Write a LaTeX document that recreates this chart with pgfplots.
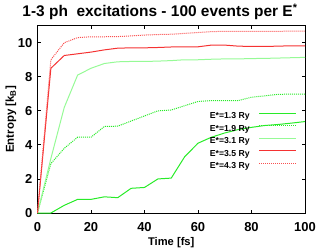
\documentclass[border=0pt]{standalone}
\usepackage{pgfplots}
\pgfplotsset{compat=1.18}
\usepackage{fontspec}
\setmainfont{Liberation Sans}
\definecolor{cA}{RGB}{40,235,40}
\definecolor{cB}{RGB}{40,235,40}
\definecolor{cC}{RGB}{150,250,150}
\definecolor{cD}{RGB}{245,50,50}
\definecolor{cE}{RGB}{250,80,80}
\begin{document}
\begin{tikzpicture}
\begin{axis}[
  name=ax,
  scale only axis,
  width=267.5bp, height=187.3bp,
  xmin=0, xmax=100, ymin=0, ymax=11,
  xtick={0,20,40,60,80,100},
  ytick={0,2,4,6,8,10},
  tick align=inside,
  major tick length=3bp,
  tick style={black, line width=0.8bp},
  axis line style={black, line width=1bp},
  /pgf/number format/assume math mode=true,
  font=\bfseries,
  ticklabel style={font=\fontsize{13}{13}\selectfont\bfseries},
  xticklabel style={anchor=base, inner sep=0pt, yshift=-18.6bp},
  yticklabel style={anchor=east, inner sep=0pt, xshift=-5bp},
  xlabel={Time [fs]},
  xlabel style={at={(rel axis cs:0.5,0)}, anchor=base, yshift=-32.7bp, font=\fontsize{11.2}{11.2}\selectfont\bfseries},
  legend cell align=right,
  legend plot pos=right,
  legend image code/.code={\draw[#1] (0bp,3bp) -- (37bp,3bp);},
  legend style={draw=none, fill=none, inner sep=0pt, at={(rel axis cs:1,0.541)}, anchor=north east, xshift=-8.3bp,
    font=\fontsize{8.7}{8.7}\selectfont\bfseries,
    nodes={inner sep=0pt, text height=7bp, text depth=2bp},
    row sep=3.5bp, column sep=8.8bp},
  clip=false,
]
\addplot[cA, line width=1bp] coordinates {(0,0)(5,0)(10,0.45)(15,0.8)(20,0.8)(25,0.95)(30,0.9)(35,1.45)(40,1.5)(45,2.0)(50,2.05)(55,3.3)(60,4.1)(65,4.45)(70,4.7)(75,4.9)(80,5.03)(85,5.14)(90,5.2)(95,5.28)(100,5.37)};
\addlegendentry{E*=1.3 Ry}
\addplot[cB, line width=1bp, dash pattern=on 1bp off 1bp] coordinates {(0,0)(5,2.9)(10,3.8)(15,4.45)(20,4.45)(25,5.08)(30,5.1)(35,5.4)(40,5.7)(45,6.0)(50,6.05)(55,6.3)(60,6.55)(65,6.6)(70,6.6)(75,6.6)(80,6.8)(85,6.88)(90,6.97)(95,6.98)(100,6.98)};
\addlegendentry{E*=1.9 Ry}
\addplot[cC, line width=1bp] coordinates {(0,0)(5,3.2)(10,6.2)(15,8.1)(20,8.5)(25,8.78)(30,8.88)(35,8.9)(40,8.9)(45,8.92)(50,8.95)(55,9.0)(60,9.0)(65,9.03)(70,9.05)(75,9.05)(80,9.07)(85,9.08)(90,9.1)(95,9.12)(100,9.14)};
\addlegendentry{E*=3.1 Ry}
\addplot[cD, line width=1bp] coordinates {(0,0)(5,8.5)(10,9.25)(15,9.35)(20,9.45)(25,9.58)(30,9.68)(35,9.7)(40,9.7)(45,9.72)(50,9.75)(55,9.76)(60,9.76)(65,9.86)(70,9.86)(75,9.8)(80,9.78)(85,9.78)(90,9.8)(95,9.82)(100,9.82)};
\addlegendentry{E*=3.5 Ry}
\addplot[cE, line width=1bp, dash pattern=on 1bp off 1bp] coordinates {(0,0)(5,9.0)(10,10.0)(15,10.3)(20,10.35)(25,10.35)(30,10.36)(35,10.4)(40,10.45)(45,10.48)(50,10.5)(55,10.55)(60,10.6)(65,10.65)(70,10.67)(75,10.67)(80,10.67)(85,10.67)(90,10.67)(95,10.68)(100,10.68)};
\addlegendentry{E*=4.3 Ry}
\end{axis}
\pgfresetboundingbox
\path[use as bounding box] ([shift={(-37.5bp,-37bp)}]ax.south west) rectangle ([shift={(12bp,25.7bp)}]ax.north east);
\node[rotate=90, anchor=center, font=\fontsize{11.5}{11.5}\selectfont\bfseries] at ([xshift=-26.5bp]ax.west) {Entropy [k\textsubscript{B}]};
\node[anchor=base, font=\fontsize{15.5}{15.5}\selectfont\bfseries] at ([shift={(122.5bp,8.7bp)}]ax.north west) {1-3 ph\ \ excitations - 100 events per E\textsuperscript{*}};
\end{tikzpicture}
\end{document}
